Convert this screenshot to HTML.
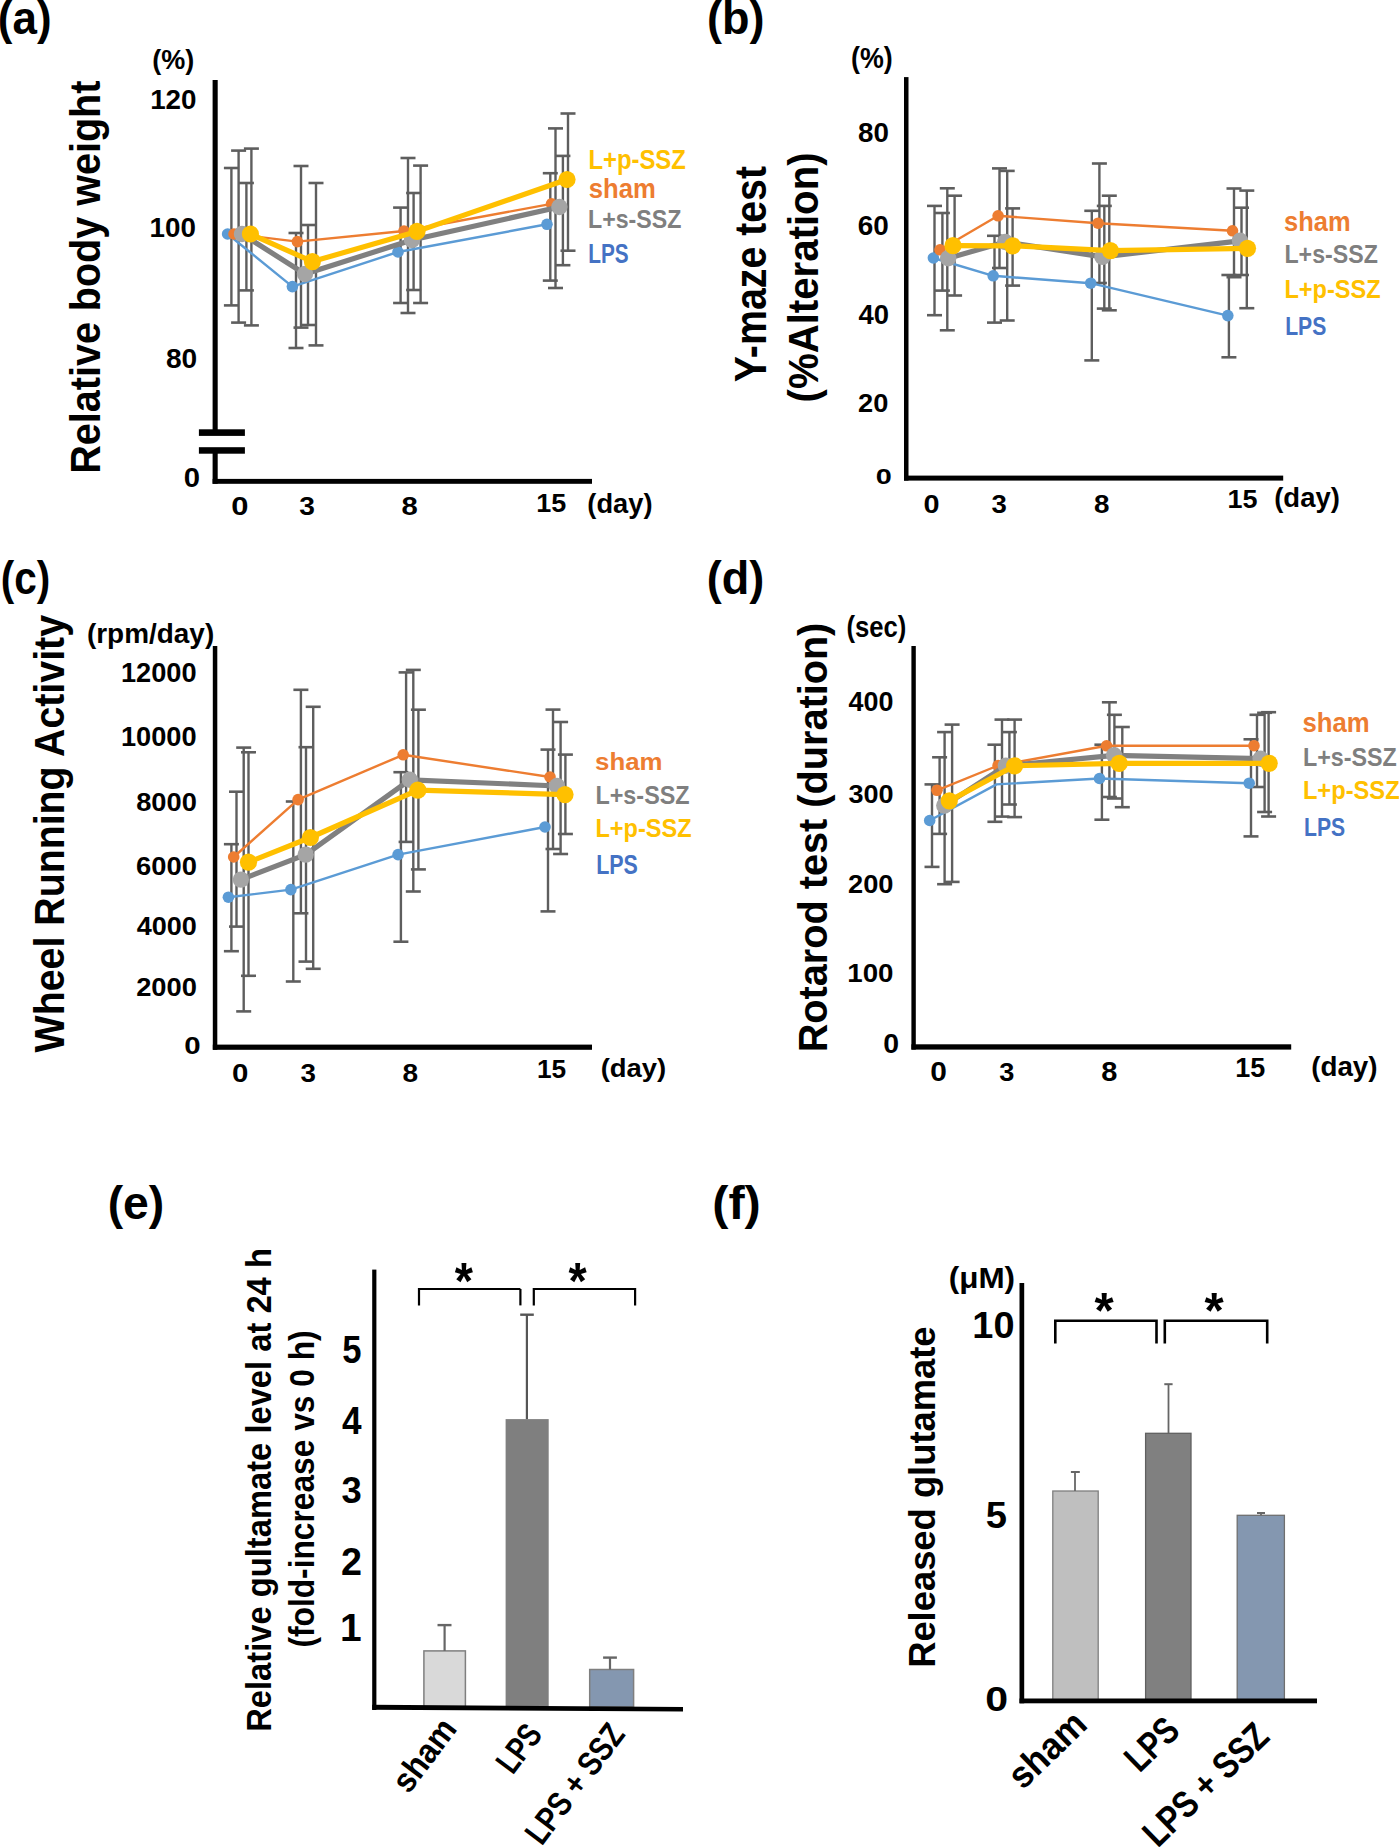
<!DOCTYPE html>
<html><head><meta charset="utf-8"><style>
html,body{margin:0;padding:0;background:#fff;}
svg{display:block;}
text{font-family:"Liberation Sans", sans-serif;font-weight:bold;}
</style></head><body>
<svg width="1399" height="1847" viewBox="0 0 1399 1847">
<rect width="1399" height="1847" fill="#fff"/>
<text transform="translate(-2.20,33.59) scale(0.9500,1)" font-size="46.33" fill="#000">(a)</text>
<text transform="translate(152.35,68.75) scale(0.9577,1)" font-size="28.20" fill="#000">(%)</text>
<text transform="translate(150.16,109.10) scale(1.0150,1)" font-size="27.38" fill="#000">120</text>
<text transform="translate(149.56,237.30) scale(1.0150,1)" font-size="27.38" fill="#000">100</text>
<text transform="translate(165.89,368.00) scale(1.0332,1)" font-size="27.24" fill="#000">80</text>
<text transform="translate(183.83,487.02) scale(1.0456,1)" font-size="27.99" fill="#000">0</text>
<text transform="translate(100.30,473.67) rotate(-90) scale(0.9459,1)" font-size="41.79" fill="#000">Relative body weight</text>
<text transform="translate(231.36,515.35) scale(1.2232,1)" font-size="25.30" fill="#000">0</text>
<text transform="translate(299.37,515.28) scale(1.1162,1)" font-size="25.21" fill="#000">3</text>
<text transform="translate(401.45,515.35) scale(1.1557,1)" font-size="25.30" fill="#000">8</text>
<text transform="translate(536.21,511.50) scale(1.0184,1)" font-size="26.47" fill="#000">15</text>
<text transform="translate(587.34,512.58) scale(0.9898,1)" font-size="27.56" fill="#000">(day)</text>
<text transform="translate(588.39,168.50) scale(0.8811,1)" font-size="27.10" fill="#FFC000">L+p-SSZ</text>
<text transform="translate(588.70,197.60) scale(0.9040,1)" font-size="28.41" fill="#ED7D31">sham</text>
<text transform="translate(588.03,228.00) scale(0.8987,1)" font-size="25.81" fill="#7F7F7F">L+s-SSZ</text>
<text transform="translate(588.20,262.80) scale(0.7713,1)" font-size="26.95" fill="#4472C4">LPS</text>
<line x1="231.4" y1="168" x2="231.4" y2="305.4" stroke="#5E5E5E" stroke-width="2.4" stroke-linecap="butt"/>
<line x1="223.9" y1="168" x2="238.9" y2="168" stroke="#5E5E5E" stroke-width="2.6" stroke-linecap="butt"/>
<line x1="223.9" y1="305.4" x2="238.9" y2="305.4" stroke="#5E5E5E" stroke-width="2.6" stroke-linecap="butt"/>
<line x1="238.6" y1="150.6" x2="238.6" y2="322.6" stroke="#5E5E5E" stroke-width="2.4" stroke-linecap="butt"/>
<line x1="231.1" y1="150.6" x2="246.1" y2="150.6" stroke="#5E5E5E" stroke-width="2.6" stroke-linecap="butt"/>
<line x1="231.1" y1="322.6" x2="246.1" y2="322.6" stroke="#5E5E5E" stroke-width="2.6" stroke-linecap="butt"/>
<line x1="246.4" y1="183" x2="246.4" y2="290.4" stroke="#5E5E5E" stroke-width="2.4" stroke-linecap="butt"/>
<line x1="238.9" y1="183" x2="253.9" y2="183" stroke="#5E5E5E" stroke-width="2.6" stroke-linecap="butt"/>
<line x1="238.9" y1="290.4" x2="253.9" y2="290.4" stroke="#5E5E5E" stroke-width="2.6" stroke-linecap="butt"/>
<line x1="251.4" y1="148.6" x2="251.4" y2="325.4" stroke="#5E5E5E" stroke-width="2.4" stroke-linecap="butt"/>
<line x1="243.9" y1="148.6" x2="258.9" y2="148.6" stroke="#5E5E5E" stroke-width="2.6" stroke-linecap="butt"/>
<line x1="243.9" y1="325.4" x2="258.9" y2="325.4" stroke="#5E5E5E" stroke-width="2.6" stroke-linecap="butt"/>
<line x1="296" y1="233" x2="296" y2="348" stroke="#5E5E5E" stroke-width="2.4" stroke-linecap="butt"/>
<line x1="288.5" y1="233" x2="303.5" y2="233" stroke="#5E5E5E" stroke-width="2.6" stroke-linecap="butt"/>
<line x1="288.5" y1="348" x2="303.5" y2="348" stroke="#5E5E5E" stroke-width="2.6" stroke-linecap="butt"/>
<line x1="301" y1="166" x2="301" y2="327.6" stroke="#5E5E5E" stroke-width="2.4" stroke-linecap="butt"/>
<line x1="293.5" y1="166" x2="308.5" y2="166" stroke="#5E5E5E" stroke-width="2.6" stroke-linecap="butt"/>
<line x1="293.5" y1="327.6" x2="308.5" y2="327.6" stroke="#5E5E5E" stroke-width="2.6" stroke-linecap="butt"/>
<line x1="308" y1="225" x2="308" y2="325" stroke="#5E5E5E" stroke-width="2.4" stroke-linecap="butt"/>
<line x1="300.5" y1="225" x2="315.5" y2="225" stroke="#5E5E5E" stroke-width="2.6" stroke-linecap="butt"/>
<line x1="300.5" y1="325" x2="315.5" y2="325" stroke="#5E5E5E" stroke-width="2.6" stroke-linecap="butt"/>
<line x1="316" y1="183" x2="316" y2="345.4" stroke="#5E5E5E" stroke-width="2.4" stroke-linecap="butt"/>
<line x1="308.5" y1="183" x2="323.5" y2="183" stroke="#5E5E5E" stroke-width="2.6" stroke-linecap="butt"/>
<line x1="308.5" y1="345.4" x2="323.5" y2="345.4" stroke="#5E5E5E" stroke-width="2.6" stroke-linecap="butt"/>
<line x1="400.6" y1="207.6" x2="400.6" y2="303" stroke="#5E5E5E" stroke-width="2.4" stroke-linecap="butt"/>
<line x1="393.1" y1="207.6" x2="408.1" y2="207.6" stroke="#5E5E5E" stroke-width="2.6" stroke-linecap="butt"/>
<line x1="393.1" y1="303" x2="408.1" y2="303" stroke="#5E5E5E" stroke-width="2.6" stroke-linecap="butt"/>
<line x1="408" y1="158" x2="408" y2="313" stroke="#5E5E5E" stroke-width="2.4" stroke-linecap="butt"/>
<line x1="400.5" y1="158" x2="415.5" y2="158" stroke="#5E5E5E" stroke-width="2.6" stroke-linecap="butt"/>
<line x1="400.5" y1="313" x2="415.5" y2="313" stroke="#5E5E5E" stroke-width="2.6" stroke-linecap="butt"/>
<line x1="413.6" y1="193" x2="413.6" y2="290" stroke="#5E5E5E" stroke-width="2.4" stroke-linecap="butt"/>
<line x1="406.1" y1="193" x2="421.1" y2="193" stroke="#5E5E5E" stroke-width="2.6" stroke-linecap="butt"/>
<line x1="406.1" y1="290" x2="421.1" y2="290" stroke="#5E5E5E" stroke-width="2.6" stroke-linecap="butt"/>
<line x1="420.6" y1="165.6" x2="420.6" y2="303" stroke="#5E5E5E" stroke-width="2.4" stroke-linecap="butt"/>
<line x1="413.1" y1="165.6" x2="428.1" y2="165.6" stroke="#5E5E5E" stroke-width="2.6" stroke-linecap="butt"/>
<line x1="413.1" y1="303" x2="428.1" y2="303" stroke="#5E5E5E" stroke-width="2.6" stroke-linecap="butt"/>
<line x1="550.3" y1="173.2" x2="550.3" y2="280.6" stroke="#5E5E5E" stroke-width="2.4" stroke-linecap="butt"/>
<line x1="542.8" y1="173.2" x2="557.8" y2="173.2" stroke="#5E5E5E" stroke-width="2.6" stroke-linecap="butt"/>
<line x1="542.8" y1="280.6" x2="557.8" y2="280.6" stroke="#5E5E5E" stroke-width="2.6" stroke-linecap="butt"/>
<line x1="555.5" y1="128.4" x2="555.5" y2="288" stroke="#5E5E5E" stroke-width="2.4" stroke-linecap="butt"/>
<line x1="548.0" y1="128.4" x2="563.0" y2="128.4" stroke="#5E5E5E" stroke-width="2.6" stroke-linecap="butt"/>
<line x1="548.0" y1="288" x2="563.0" y2="288" stroke="#5E5E5E" stroke-width="2.6" stroke-linecap="butt"/>
<line x1="562.9" y1="155.9" x2="562.9" y2="265.2" stroke="#5E5E5E" stroke-width="2.4" stroke-linecap="butt"/>
<line x1="555.4" y1="155.9" x2="570.4" y2="155.9" stroke="#5E5E5E" stroke-width="2.6" stroke-linecap="butt"/>
<line x1="555.4" y1="265.2" x2="570.4" y2="265.2" stroke="#5E5E5E" stroke-width="2.6" stroke-linecap="butt"/>
<line x1="568" y1="113.5" x2="568" y2="250.7" stroke="#5E5E5E" stroke-width="2.4" stroke-linecap="butt"/>
<line x1="560.5" y1="113.5" x2="575.5" y2="113.5" stroke="#5E5E5E" stroke-width="2.6" stroke-linecap="butt"/>
<line x1="560.5" y1="250.7" x2="575.5" y2="250.7" stroke="#5E5E5E" stroke-width="2.6" stroke-linecap="butt"/>
<polyline points="227.6,234 292.4,286.6 398,252 547,224.3" fill="none" stroke="#5B9BD5" stroke-width="2.4" stroke-linejoin="round"/>
<circle cx="227.6" cy="234" r="5.8" fill="#5B9BD5"/>
<circle cx="292.4" cy="286.6" r="5.8" fill="#5B9BD5"/>
<circle cx="398" cy="252" r="5.8" fill="#5B9BD5"/>
<circle cx="547" cy="224.3" r="5.8" fill="#5B9BD5"/>
<polyline points="234,234 297.4,241.6 404,231 551.5,203.9" fill="none" stroke="#ED7D31" stroke-width="2.4" stroke-linejoin="round"/>
<circle cx="234" cy="234" r="5.8" fill="#ED7D31"/>
<circle cx="297.4" cy="241.6" r="5.8" fill="#ED7D31"/>
<circle cx="404" cy="231" r="5.8" fill="#ED7D31"/>
<circle cx="551.5" cy="203.9" r="5.8" fill="#ED7D31"/>
<polyline points="242,234 305,274 412,240 559.4,207" fill="none" stroke="#808080" stroke-width="5.2" stroke-linejoin="round"/>
<circle cx="242" cy="234" r="8.2" fill="#A5A5A5"/>
<circle cx="305" cy="274" r="8.2" fill="#A5A5A5"/>
<circle cx="412" cy="240" r="8.2" fill="#A5A5A5"/>
<circle cx="559.4" cy="207" r="8.2" fill="#A5A5A5"/>
<polyline points="250.4,234 312.4,261.6 417,231.4 567,179.5" fill="none" stroke="#FFC000" stroke-width="5.2" stroke-linejoin="round"/>
<circle cx="250.4" cy="234" r="8.6" fill="#FFC000"/>
<circle cx="312.4" cy="261.6" r="8.6" fill="#FFC000"/>
<circle cx="417" cy="231.4" r="8.6" fill="#FFC000"/>
<circle cx="567" cy="179.5" r="8.6" fill="#FFC000"/>
<rect x="212.60" y="80.00" width="5.10" height="352.00" fill="#000"/>
<rect x="212.60" y="450.00" width="5.10" height="33.80" fill="#000"/>
<rect x="212.60" y="478.90" width="379.40" height="4.90" fill="#000"/>
<rect x="198.90" y="429.30" width="46.00" height="6.60" fill="#000"/>
<rect x="198.90" y="447.20" width="46.00" height="6.50" fill="#000"/>
<text transform="translate(707.05,33.98) scale(0.9605,1)" font-size="46.86" fill="#000">(b)</text>
<text transform="translate(851.06,68.31) scale(0.9292,1)" font-size="28.85" fill="#000">(%)</text>
<text transform="translate(858.00,142.20) scale(0.9929,1)" font-size="27.96" fill="#000">80</text>
<text transform="translate(857.85,235.10) scale(0.9977,1)" font-size="27.96" fill="#000">60</text>
<text transform="translate(858.59,324.00) scale(1.0198,1)" font-size="26.95" fill="#000">40</text>
<text transform="translate(858.05,411.50) scale(1.0558,1)" font-size="25.81" fill="#000">20</text>
<text transform="translate(875.85,483.78) scale(1.3165,1)" font-size="21.91" fill="#000">0</text>
<text transform="translate(766.30,382.19) rotate(-90) scale(0.9008,1)" font-size="43.64" fill="#000">Y-maze test</text>
<text transform="translate(817.53,402.41) rotate(-90) scale(0.9513,1)" font-size="42.25" fill="#000">(%Alteration)</text>
<text transform="translate(923.55,512.95) scale(1.1400,1)" font-size="25.30" fill="#000">0</text>
<text transform="translate(991.38,512.88) scale(1.0923,1)" font-size="25.21" fill="#000">3</text>
<text transform="translate(1094.00,512.95) scale(1.0995,1)" font-size="25.30" fill="#000">8</text>
<text transform="translate(1227.61,508.00) scale(1.0413,1)" font-size="25.89" fill="#000">15</text>
<text transform="translate(1274.23,507.46) scale(0.9923,1)" font-size="27.67" fill="#000">(day)</text>
<text transform="translate(1284.01,230.80) scale(0.9285,1)" font-size="27.45" fill="#ED7D31">sham</text>
<text transform="translate(1284.43,263.30) scale(0.8888,1)" font-size="26.09" fill="#7F7F7F">L+s-SSZ</text>
<text transform="translate(1284.41,297.50) scale(0.9034,1)" font-size="26.09" fill="#FFC000">L+p-SSZ</text>
<text transform="translate(1285.17,334.90) scale(0.8113,1)" font-size="26.09" fill="#4472C4">LPS</text>
<line x1="934.5" y1="205.9" x2="934.5" y2="315.2" stroke="#5E5E5E" stroke-width="2.4" stroke-linecap="butt"/>
<line x1="927.0" y1="205.9" x2="942.0" y2="205.9" stroke="#5E5E5E" stroke-width="2.6" stroke-linecap="butt"/>
<line x1="927.0" y1="315.2" x2="942.0" y2="315.2" stroke="#5E5E5E" stroke-width="2.6" stroke-linecap="butt"/>
<line x1="942.4" y1="213" x2="942.4" y2="290.6" stroke="#5E5E5E" stroke-width="2.4" stroke-linecap="butt"/>
<line x1="934.9" y1="213" x2="949.9" y2="213" stroke="#5E5E5E" stroke-width="2.6" stroke-linecap="butt"/>
<line x1="934.9" y1="290.6" x2="949.9" y2="290.6" stroke="#5E5E5E" stroke-width="2.6" stroke-linecap="butt"/>
<line x1="947.3" y1="188.3" x2="947.3" y2="330.3" stroke="#5E5E5E" stroke-width="2.4" stroke-linecap="butt"/>
<line x1="939.8" y1="188.3" x2="954.8" y2="188.3" stroke="#5E5E5E" stroke-width="2.6" stroke-linecap="butt"/>
<line x1="939.8" y1="330.3" x2="954.8" y2="330.3" stroke="#5E5E5E" stroke-width="2.6" stroke-linecap="butt"/>
<line x1="954.6" y1="195.7" x2="954.6" y2="295.5" stroke="#5E5E5E" stroke-width="2.4" stroke-linecap="butt"/>
<line x1="947.1" y1="195.7" x2="962.1" y2="195.7" stroke="#5E5E5E" stroke-width="2.6" stroke-linecap="butt"/>
<line x1="947.1" y1="295.5" x2="962.1" y2="295.5" stroke="#5E5E5E" stroke-width="2.6" stroke-linecap="butt"/>
<line x1="994.5" y1="235.8" x2="994.5" y2="322.6" stroke="#5E5E5E" stroke-width="2.4" stroke-linecap="butt"/>
<line x1="987.0" y1="235.8" x2="1002.0" y2="235.8" stroke="#5E5E5E" stroke-width="2.6" stroke-linecap="butt"/>
<line x1="987.0" y1="322.6" x2="1002.0" y2="322.6" stroke="#5E5E5E" stroke-width="2.6" stroke-linecap="butt"/>
<line x1="999.5" y1="168.4" x2="999.5" y2="268" stroke="#5E5E5E" stroke-width="2.4" stroke-linecap="butt"/>
<line x1="992.0" y1="168.4" x2="1007.0" y2="168.4" stroke="#5E5E5E" stroke-width="2.6" stroke-linecap="butt"/>
<line x1="992.0" y1="268" x2="1007.0" y2="268" stroke="#5E5E5E" stroke-width="2.6" stroke-linecap="butt"/>
<line x1="1007.2" y1="170.9" x2="1007.2" y2="320.5" stroke="#5E5E5E" stroke-width="2.4" stroke-linecap="butt"/>
<line x1="999.7" y1="170.9" x2="1014.7" y2="170.9" stroke="#5E5E5E" stroke-width="2.6" stroke-linecap="butt"/>
<line x1="999.7" y1="320.5" x2="1014.7" y2="320.5" stroke="#5E5E5E" stroke-width="2.6" stroke-linecap="butt"/>
<line x1="1012.6" y1="208.4" x2="1012.6" y2="285.6" stroke="#5E5E5E" stroke-width="2.4" stroke-linecap="butt"/>
<line x1="1005.1" y1="208.4" x2="1020.1" y2="208.4" stroke="#5E5E5E" stroke-width="2.6" stroke-linecap="butt"/>
<line x1="1005.1" y1="285.6" x2="1020.1" y2="285.6" stroke="#5E5E5E" stroke-width="2.6" stroke-linecap="butt"/>
<line x1="1091.8" y1="210.8" x2="1091.8" y2="360.4" stroke="#5E5E5E" stroke-width="2.4" stroke-linecap="butt"/>
<line x1="1084.3" y1="210.8" x2="1099.3" y2="210.8" stroke="#5E5E5E" stroke-width="2.6" stroke-linecap="butt"/>
<line x1="1084.3" y1="360.4" x2="1099.3" y2="360.4" stroke="#5E5E5E" stroke-width="2.6" stroke-linecap="butt"/>
<line x1="1099.4" y1="163.5" x2="1099.4" y2="283" stroke="#5E5E5E" stroke-width="2.4" stroke-linecap="butt"/>
<line x1="1091.9" y1="163.5" x2="1106.9" y2="163.5" stroke="#5E5E5E" stroke-width="2.6" stroke-linecap="butt"/>
<line x1="1091.9" y1="283" x2="1106.9" y2="283" stroke="#5E5E5E" stroke-width="2.6" stroke-linecap="butt"/>
<line x1="1104.3" y1="205.9" x2="1104.3" y2="308.6" stroke="#5E5E5E" stroke-width="2.4" stroke-linecap="butt"/>
<line x1="1096.8" y1="205.9" x2="1111.8" y2="205.9" stroke="#5E5E5E" stroke-width="2.6" stroke-linecap="butt"/>
<line x1="1096.8" y1="308.6" x2="1111.8" y2="308.6" stroke="#5E5E5E" stroke-width="2.6" stroke-linecap="butt"/>
<line x1="1109.3" y1="195.7" x2="1109.3" y2="310.3" stroke="#5E5E5E" stroke-width="2.4" stroke-linecap="butt"/>
<line x1="1101.8" y1="195.7" x2="1116.8" y2="195.7" stroke="#5E5E5E" stroke-width="2.6" stroke-linecap="butt"/>
<line x1="1101.8" y1="310.3" x2="1116.8" y2="310.3" stroke="#5E5E5E" stroke-width="2.6" stroke-linecap="butt"/>
<line x1="1228.9" y1="275" x2="1228.9" y2="357.3" stroke="#5E5E5E" stroke-width="2.4" stroke-linecap="butt"/>
<line x1="1221.4" y1="275" x2="1236.4" y2="275" stroke="#5E5E5E" stroke-width="2.6" stroke-linecap="butt"/>
<line x1="1221.4" y1="357.3" x2="1236.4" y2="357.3" stroke="#5E5E5E" stroke-width="2.6" stroke-linecap="butt"/>
<line x1="1234" y1="188.5" x2="1234" y2="277.2" stroke="#5E5E5E" stroke-width="2.4" stroke-linecap="butt"/>
<line x1="1226.5" y1="188.5" x2="1241.5" y2="188.5" stroke="#5E5E5E" stroke-width="2.6" stroke-linecap="butt"/>
<line x1="1226.5" y1="277.2" x2="1241.5" y2="277.2" stroke="#5E5E5E" stroke-width="2.6" stroke-linecap="butt"/>
<line x1="1241.5" y1="207.7" x2="1241.5" y2="275" stroke="#5E5E5E" stroke-width="2.4" stroke-linecap="butt"/>
<line x1="1234.0" y1="207.7" x2="1249.0" y2="207.7" stroke="#5E5E5E" stroke-width="2.6" stroke-linecap="butt"/>
<line x1="1234.0" y1="275" x2="1249.0" y2="275" stroke="#5E5E5E" stroke-width="2.6" stroke-linecap="butt"/>
<line x1="1246.8" y1="190.6" x2="1246.8" y2="308.2" stroke="#5E5E5E" stroke-width="2.4" stroke-linecap="butt"/>
<line x1="1239.3" y1="190.6" x2="1254.3" y2="190.6" stroke="#5E5E5E" stroke-width="2.6" stroke-linecap="butt"/>
<line x1="1239.3" y1="308.2" x2="1254.3" y2="308.2" stroke="#5E5E5E" stroke-width="2.6" stroke-linecap="butt"/>
<polyline points="933.4,258 993.2,275.8 1090.7,283.2 1227.8,315.6" fill="none" stroke="#5B9BD5" stroke-width="2.4" stroke-linejoin="round"/>
<circle cx="933.4" cy="258" r="5.8" fill="#5B9BD5"/>
<circle cx="993.2" cy="275.8" r="5.8" fill="#5B9BD5"/>
<circle cx="1090.7" cy="283.2" r="5.8" fill="#5B9BD5"/>
<circle cx="1227.8" cy="315.6" r="5.8" fill="#5B9BD5"/>
<polyline points="940,249.8 998.1,215.8 1098.1,223.2 1232.5,230.8" fill="none" stroke="#ED7D31" stroke-width="2.4" stroke-linejoin="round"/>
<circle cx="940" cy="249.8" r="5.8" fill="#ED7D31"/>
<circle cx="998.1" cy="215.8" r="5.8" fill="#ED7D31"/>
<circle cx="1098.1" cy="223.2" r="5.8" fill="#ED7D31"/>
<circle cx="1232.5" cy="230.8" r="5.8" fill="#ED7D31"/>
<polyline points="948.2,258.2 1005.2,242 1102.5,256.9 1240,240.8" fill="none" stroke="#808080" stroke-width="5.2" stroke-linejoin="round"/>
<circle cx="948.2" cy="258.2" r="8.2" fill="#A5A5A5"/>
<circle cx="1005.2" cy="242" r="8.2" fill="#A5A5A5"/>
<circle cx="1102.5" cy="256.9" r="8.2" fill="#A5A5A5"/>
<circle cx="1240" cy="240.8" r="8.2" fill="#A5A5A5"/>
<polyline points="953,245.7 1012.6,245.8 1110.4,250.6 1247.5,248.3" fill="none" stroke="#FFC000" stroke-width="5.2" stroke-linejoin="round"/>
<circle cx="953" cy="245.7" r="8.6" fill="#FFC000"/>
<circle cx="1012.6" cy="245.8" r="8.6" fill="#FFC000"/>
<circle cx="1110.4" cy="250.6" r="8.6" fill="#FFC000"/>
<circle cx="1247.5" cy="248.3" r="8.6" fill="#FFC000"/>
<rect x="904.00" y="77.10" width="4.50" height="403.50" fill="#000"/>
<rect x="904.00" y="475.60" width="379.20" height="5.00" fill="#000"/>
<text transform="translate(0.77,594.18) scale(0.8650,1)" font-size="46.86" fill="#000">(c)</text>
<text transform="translate(86.90,642.71) scale(1.0023,1)" font-size="27.88" fill="#000">(rpm/day)</text>
<text transform="translate(121.00,682.00) scale(0.9725,1)" font-size="27.96" fill="#000">12000</text>
<text transform="translate(121.00,746.10) scale(0.9725,1)" font-size="27.96" fill="#000">10000</text>
<text transform="translate(136.21,810.70) scale(1.0221,1)" font-size="26.67" fill="#000">8000</text>
<text transform="translate(136.08,874.80) scale(1.0245,1)" font-size="26.67" fill="#000">6000</text>
<text transform="translate(136.69,935.20) scale(1.0138,1)" font-size="26.67" fill="#000">4000</text>
<text transform="translate(136.14,995.60) scale(1.0233,1)" font-size="26.67" fill="#000">2000</text>
<text transform="translate(184.22,1053.96) scale(1.2412,1)" font-size="23.75" fill="#000">0</text>
<text transform="translate(64.40,1052.40) rotate(-90) scale(0.9377,1)" font-size="41.93" fill="#000">Wheel Running Activity</text>
<text transform="translate(232.12,1082.24) scale(1.1457,1)" font-size="25.72" fill="#000">0</text>
<text transform="translate(300.58,1082.18) scale(1.0821,1)" font-size="25.63" fill="#000">3</text>
<text transform="translate(402.49,1082.24) scale(1.0893,1)" font-size="25.72" fill="#000">8</text>
<text transform="translate(536.96,1078.00) scale(1.0148,1)" font-size="25.89" fill="#000">15</text>
<text transform="translate(600.63,1076.60) scale(1.0365,1)" font-size="26.49" fill="#000">(day)</text>
<text transform="translate(595.10,770.00) scale(1.0410,1)" font-size="24.83" fill="#ED7D31">sham</text>
<text transform="translate(595.42,804.00) scale(0.9065,1)" font-size="25.81" fill="#7F7F7F">L+s-SSZ</text>
<text transform="translate(595.41,837.00) scale(0.9135,1)" font-size="25.81" fill="#FFC000">L+p-SSZ</text>
<text transform="translate(596.15,874.00) scale(0.7872,1)" font-size="27.24" fill="#4472C4">LPS</text>
<line x1="231.4" y1="844.2" x2="231.4" y2="951.2" stroke="#5E5E5E" stroke-width="2.4" stroke-linecap="butt"/>
<line x1="223.9" y1="844.2" x2="238.9" y2="844.2" stroke="#5E5E5E" stroke-width="2.6" stroke-linecap="butt"/>
<line x1="223.9" y1="951.2" x2="238.9" y2="951.2" stroke="#5E5E5E" stroke-width="2.6" stroke-linecap="butt"/>
<line x1="236.5" y1="791.7" x2="236.5" y2="926.6" stroke="#5E5E5E" stroke-width="2.4" stroke-linecap="butt"/>
<line x1="229.0" y1="791.7" x2="244.0" y2="791.7" stroke="#5E5E5E" stroke-width="2.6" stroke-linecap="butt"/>
<line x1="229.0" y1="926.6" x2="244.0" y2="926.6" stroke="#5E5E5E" stroke-width="2.6" stroke-linecap="butt"/>
<line x1="243.7" y1="747.6" x2="243.7" y2="1011.4" stroke="#5E5E5E" stroke-width="2.4" stroke-linecap="butt"/>
<line x1="236.2" y1="747.6" x2="251.2" y2="747.6" stroke="#5E5E5E" stroke-width="2.6" stroke-linecap="butt"/>
<line x1="236.2" y1="1011.4" x2="251.2" y2="1011.4" stroke="#5E5E5E" stroke-width="2.6" stroke-linecap="butt"/>
<line x1="248.5" y1="752.3" x2="248.5" y2="975.8" stroke="#5E5E5E" stroke-width="2.4" stroke-linecap="butt"/>
<line x1="241.0" y1="752.3" x2="256.0" y2="752.3" stroke="#5E5E5E" stroke-width="2.6" stroke-linecap="butt"/>
<line x1="241.0" y1="975.8" x2="256.0" y2="975.8" stroke="#5E5E5E" stroke-width="2.6" stroke-linecap="butt"/>
<line x1="293.3" y1="801.5" x2="293.3" y2="981.5" stroke="#5E5E5E" stroke-width="2.4" stroke-linecap="butt"/>
<line x1="285.8" y1="801.5" x2="300.8" y2="801.5" stroke="#5E5E5E" stroke-width="2.6" stroke-linecap="butt"/>
<line x1="285.8" y1="981.5" x2="300.8" y2="981.5" stroke="#5E5E5E" stroke-width="2.6" stroke-linecap="butt"/>
<line x1="300.9" y1="689.8" x2="300.9" y2="913.3" stroke="#5E5E5E" stroke-width="2.4" stroke-linecap="butt"/>
<line x1="293.4" y1="689.8" x2="308.4" y2="689.8" stroke="#5E5E5E" stroke-width="2.6" stroke-linecap="butt"/>
<line x1="293.4" y1="913.3" x2="308.4" y2="913.3" stroke="#5E5E5E" stroke-width="2.6" stroke-linecap="butt"/>
<line x1="306" y1="747.2" x2="306" y2="961.6" stroke="#5E5E5E" stroke-width="2.4" stroke-linecap="butt"/>
<line x1="298.5" y1="747.2" x2="313.5" y2="747.2" stroke="#5E5E5E" stroke-width="2.6" stroke-linecap="butt"/>
<line x1="298.5" y1="961.6" x2="313.5" y2="961.6" stroke="#5E5E5E" stroke-width="2.6" stroke-linecap="butt"/>
<line x1="313.2" y1="706.8" x2="313.2" y2="968.8" stroke="#5E5E5E" stroke-width="2.4" stroke-linecap="butt"/>
<line x1="305.7" y1="706.8" x2="320.7" y2="706.8" stroke="#5E5E5E" stroke-width="2.6" stroke-linecap="butt"/>
<line x1="305.7" y1="968.8" x2="320.7" y2="968.8" stroke="#5E5E5E" stroke-width="2.6" stroke-linecap="butt"/>
<line x1="400.9" y1="772.2" x2="400.9" y2="941.7" stroke="#5E5E5E" stroke-width="2.4" stroke-linecap="butt"/>
<line x1="393.4" y1="772.2" x2="408.4" y2="772.2" stroke="#5E5E5E" stroke-width="2.6" stroke-linecap="butt"/>
<line x1="393.4" y1="941.7" x2="408.4" y2="941.7" stroke="#5E5E5E" stroke-width="2.6" stroke-linecap="butt"/>
<line x1="406.1" y1="672.4" x2="406.1" y2="841.9" stroke="#5E5E5E" stroke-width="2.4" stroke-linecap="butt"/>
<line x1="398.6" y1="672.4" x2="413.6" y2="672.4" stroke="#5E5E5E" stroke-width="2.6" stroke-linecap="butt"/>
<line x1="398.6" y1="841.9" x2="413.6" y2="841.9" stroke="#5E5E5E" stroke-width="2.6" stroke-linecap="butt"/>
<line x1="413.3" y1="669.9" x2="413.3" y2="891.5" stroke="#5E5E5E" stroke-width="2.4" stroke-linecap="butt"/>
<line x1="405.8" y1="669.9" x2="420.8" y2="669.9" stroke="#5E5E5E" stroke-width="2.6" stroke-linecap="butt"/>
<line x1="405.8" y1="891.5" x2="420.8" y2="891.5" stroke="#5E5E5E" stroke-width="2.6" stroke-linecap="butt"/>
<line x1="418.4" y1="709.7" x2="418.4" y2="869.4" stroke="#5E5E5E" stroke-width="2.4" stroke-linecap="butt"/>
<line x1="410.9" y1="709.7" x2="425.9" y2="709.7" stroke="#5E5E5E" stroke-width="2.6" stroke-linecap="butt"/>
<line x1="410.9" y1="869.4" x2="425.9" y2="869.4" stroke="#5E5E5E" stroke-width="2.6" stroke-linecap="butt"/>
<line x1="548" y1="749.6" x2="548" y2="911.4" stroke="#5E5E5E" stroke-width="2.4" stroke-linecap="butt"/>
<line x1="540.5" y1="749.6" x2="555.5" y2="749.6" stroke="#5E5E5E" stroke-width="2.6" stroke-linecap="butt"/>
<line x1="540.5" y1="911.4" x2="555.5" y2="911.4" stroke="#5E5E5E" stroke-width="2.6" stroke-linecap="butt"/>
<line x1="553" y1="709.6" x2="553" y2="849" stroke="#5E5E5E" stroke-width="2.4" stroke-linecap="butt"/>
<line x1="545.5" y1="709.6" x2="560.5" y2="709.6" stroke="#5E5E5E" stroke-width="2.6" stroke-linecap="butt"/>
<line x1="545.5" y1="849" x2="560.5" y2="849" stroke="#5E5E5E" stroke-width="2.6" stroke-linecap="butt"/>
<line x1="560.6" y1="722" x2="560.6" y2="854" stroke="#5E5E5E" stroke-width="2.4" stroke-linecap="butt"/>
<line x1="553.1" y1="722" x2="568.1" y2="722" stroke="#5E5E5E" stroke-width="2.6" stroke-linecap="butt"/>
<line x1="553.1" y1="854" x2="568.1" y2="854" stroke="#5E5E5E" stroke-width="2.6" stroke-linecap="butt"/>
<line x1="565.4" y1="754.6" x2="565.4" y2="834" stroke="#5E5E5E" stroke-width="2.4" stroke-linecap="butt"/>
<line x1="557.9" y1="754.6" x2="572.9" y2="754.6" stroke="#5E5E5E" stroke-width="2.6" stroke-linecap="butt"/>
<line x1="557.9" y1="834" x2="572.9" y2="834" stroke="#5E5E5E" stroke-width="2.6" stroke-linecap="butt"/>
<polyline points="228.4,897.2 290.9,889.6 398.1,854.6 545,827" fill="none" stroke="#5B9BD5" stroke-width="2.4" stroke-linejoin="round"/>
<circle cx="228.4" cy="897.2" r="5.8" fill="#5B9BD5"/>
<circle cx="290.9" cy="889.6" r="5.8" fill="#5B9BD5"/>
<circle cx="398.1" cy="854.6" r="5.8" fill="#5B9BD5"/>
<circle cx="545" cy="827" r="5.8" fill="#5B9BD5"/>
<polyline points="233.7,857 298.1,799.6 403.2,754.8 550,777" fill="none" stroke="#ED7D31" stroke-width="2.4" stroke-linejoin="round"/>
<circle cx="233.7" cy="857" r="5.8" fill="#ED7D31"/>
<circle cx="298.1" cy="799.6" r="5.8" fill="#ED7D31"/>
<circle cx="403.2" cy="754.8" r="5.8" fill="#ED7D31"/>
<circle cx="550" cy="777" r="5.8" fill="#ED7D31"/>
<polyline points="240.9,879.6 305.7,854.6 409.8,779.8 557,786" fill="none" stroke="#808080" stroke-width="5.2" stroke-linejoin="round"/>
<circle cx="240.9" cy="879.6" r="8.2" fill="#A5A5A5"/>
<circle cx="305.7" cy="854.6" r="8.2" fill="#A5A5A5"/>
<circle cx="409.8" cy="779.8" r="8.2" fill="#A5A5A5"/>
<circle cx="557" cy="786" r="8.2" fill="#A5A5A5"/>
<polyline points="248.5,862.2 310.4,837.5 417.8,790.2 565,794.6" fill="none" stroke="#FFC000" stroke-width="5.2" stroke-linejoin="round"/>
<circle cx="248.5" cy="862.2" r="8.6" fill="#FFC000"/>
<circle cx="310.4" cy="837.5" r="8.6" fill="#FFC000"/>
<circle cx="417.8" cy="790.2" r="8.6" fill="#FFC000"/>
<circle cx="565" cy="794.6" r="8.6" fill="#FFC000"/>
<rect x="212.80" y="646.00" width="4.50" height="403.80" fill="#000"/>
<rect x="212.80" y="1044.60" width="379.20" height="5.20" fill="#000"/>
<text transform="translate(706.65,594.28) scale(0.9623,1)" font-size="46.86" fill="#000">(d)</text>
<text transform="translate(846.42,637.29) scale(0.8870,1)" font-size="28.95" fill="#000">(sec)</text>
<text transform="translate(848.60,711.00) scale(0.9881,1)" font-size="27.24" fill="#000">400</text>
<text transform="translate(848.39,803.10) scale(1.0716,1)" font-size="25.23" fill="#000">300</text>
<text transform="translate(848.05,892.50) scale(1.0862,1)" font-size="25.09" fill="#000">200</text>
<text transform="translate(847.27,981.90) scale(1.0990,1)" font-size="25.23" fill="#000">100</text>
<text transform="translate(883.16,1053.43) scale(1.0583,1)" font-size="26.86" fill="#000">0</text>
<text transform="translate(827.40,1052.28) rotate(-90) scale(0.9654,1)" font-size="41.10" fill="#000">Rotarod test (duration)</text>
<text transform="translate(930.20,1081.43) scale(1.1191,1)" font-size="26.71" fill="#000">0</text>
<text transform="translate(999.29,1081.37) scale(1.0194,1)" font-size="26.62" fill="#000">3</text>
<text transform="translate(1101.26,1081.43) scale(1.0869,1)" font-size="26.71" fill="#000">8</text>
<text transform="translate(1235.31,1077.10) scale(0.9965,1)" font-size="27.05" fill="#000">15</text>
<text transform="translate(1311.21,1076.14) scale(1.0354,1)" font-size="26.81" fill="#000">(day)</text>
<text transform="translate(1302.50,732.00) scale(0.9098,1)" font-size="28.28" fill="#ED7D31">sham</text>
<text transform="translate(1302.93,765.60) scale(0.9086,1)" font-size="25.66" fill="#7F7F7F">L+s-SSZ</text>
<text transform="translate(1302.90,798.60) scale(0.9183,1)" font-size="25.81" fill="#FFC000">L+p-SSZ</text>
<text transform="translate(1304.07,835.50) scale(0.8486,1)" font-size="24.95" fill="#4472C4">LPS</text>
<line x1="932" y1="784.4" x2="932" y2="866.9" stroke="#5E5E5E" stroke-width="2.4" stroke-linecap="butt"/>
<line x1="924.5" y1="784.4" x2="939.5" y2="784.4" stroke="#5E5E5E" stroke-width="2.6" stroke-linecap="butt"/>
<line x1="924.5" y1="866.9" x2="939.5" y2="866.9" stroke="#5E5E5E" stroke-width="2.6" stroke-linecap="butt"/>
<line x1="939.6" y1="757.3" x2="939.6" y2="833.9" stroke="#5E5E5E" stroke-width="2.4" stroke-linecap="butt"/>
<line x1="932.1" y1="757.3" x2="947.1" y2="757.3" stroke="#5E5E5E" stroke-width="2.6" stroke-linecap="butt"/>
<line x1="932.1" y1="833.9" x2="947.1" y2="833.9" stroke="#5E5E5E" stroke-width="2.6" stroke-linecap="butt"/>
<line x1="944.6" y1="732.1" x2="944.6" y2="884.2" stroke="#5E5E5E" stroke-width="2.4" stroke-linecap="butt"/>
<line x1="937.1" y1="732.1" x2="952.1" y2="732.1" stroke="#5E5E5E" stroke-width="2.6" stroke-linecap="butt"/>
<line x1="937.1" y1="884.2" x2="952.1" y2="884.2" stroke="#5E5E5E" stroke-width="2.6" stroke-linecap="butt"/>
<line x1="952.1" y1="724.6" x2="952.1" y2="881.9" stroke="#5E5E5E" stroke-width="2.4" stroke-linecap="butt"/>
<line x1="944.6" y1="724.6" x2="959.6" y2="724.6" stroke="#5E5E5E" stroke-width="2.6" stroke-linecap="butt"/>
<line x1="944.6" y1="881.9" x2="959.6" y2="881.9" stroke="#5E5E5E" stroke-width="2.6" stroke-linecap="butt"/>
<line x1="994.9" y1="744.7" x2="994.9" y2="821.8" stroke="#5E5E5E" stroke-width="2.4" stroke-linecap="butt"/>
<line x1="987.4" y1="744.7" x2="1002.4" y2="744.7" stroke="#5E5E5E" stroke-width="2.6" stroke-linecap="butt"/>
<line x1="987.4" y1="821.8" x2="1002.4" y2="821.8" stroke="#5E5E5E" stroke-width="2.6" stroke-linecap="butt"/>
<line x1="1002" y1="719.6" x2="1002" y2="816.6" stroke="#5E5E5E" stroke-width="2.4" stroke-linecap="butt"/>
<line x1="994.5" y1="719.6" x2="1009.5" y2="719.6" stroke="#5E5E5E" stroke-width="2.6" stroke-linecap="butt"/>
<line x1="994.5" y1="816.6" x2="1009.5" y2="816.6" stroke="#5E5E5E" stroke-width="2.6" stroke-linecap="butt"/>
<line x1="1009.4" y1="732.1" x2="1009.4" y2="804.5" stroke="#5E5E5E" stroke-width="2.4" stroke-linecap="butt"/>
<line x1="1001.9" y1="732.1" x2="1016.9" y2="732.1" stroke="#5E5E5E" stroke-width="2.6" stroke-linecap="butt"/>
<line x1="1001.9" y1="804.5" x2="1016.9" y2="804.5" stroke="#5E5E5E" stroke-width="2.6" stroke-linecap="butt"/>
<line x1="1014.6" y1="719.6" x2="1014.6" y2="817.1" stroke="#5E5E5E" stroke-width="2.4" stroke-linecap="butt"/>
<line x1="1007.1" y1="719.6" x2="1022.1" y2="719.6" stroke="#5E5E5E" stroke-width="2.6" stroke-linecap="butt"/>
<line x1="1007.1" y1="817.1" x2="1022.1" y2="817.1" stroke="#5E5E5E" stroke-width="2.6" stroke-linecap="butt"/>
<line x1="1101.9" y1="744.7" x2="1101.9" y2="819.7" stroke="#5E5E5E" stroke-width="2.4" stroke-linecap="butt"/>
<line x1="1094.4" y1="744.7" x2="1109.4" y2="744.7" stroke="#5E5E5E" stroke-width="2.6" stroke-linecap="butt"/>
<line x1="1094.4" y1="819.7" x2="1109.4" y2="819.7" stroke="#5E5E5E" stroke-width="2.6" stroke-linecap="butt"/>
<line x1="1109.4" y1="702.3" x2="1109.4" y2="797" stroke="#5E5E5E" stroke-width="2.4" stroke-linecap="butt"/>
<line x1="1101.9" y1="702.3" x2="1116.9" y2="702.3" stroke="#5E5E5E" stroke-width="2.6" stroke-linecap="butt"/>
<line x1="1101.9" y1="797" x2="1116.9" y2="797" stroke="#5E5E5E" stroke-width="2.6" stroke-linecap="butt"/>
<line x1="1114.4" y1="714.8" x2="1114.4" y2="798.5" stroke="#5E5E5E" stroke-width="2.4" stroke-linecap="butt"/>
<line x1="1106.9" y1="714.8" x2="1121.9" y2="714.8" stroke="#5E5E5E" stroke-width="2.6" stroke-linecap="butt"/>
<line x1="1106.9" y1="798.5" x2="1121.9" y2="798.5" stroke="#5E5E5E" stroke-width="2.6" stroke-linecap="butt"/>
<line x1="1122.3" y1="727" x2="1122.3" y2="807.2" stroke="#5E5E5E" stroke-width="2.4" stroke-linecap="butt"/>
<line x1="1114.8" y1="727" x2="1129.8" y2="727" stroke="#5E5E5E" stroke-width="2.6" stroke-linecap="butt"/>
<line x1="1114.8" y1="807.2" x2="1129.8" y2="807.2" stroke="#5E5E5E" stroke-width="2.6" stroke-linecap="butt"/>
<line x1="1251" y1="739.3" x2="1251" y2="836.4" stroke="#5E5E5E" stroke-width="2.4" stroke-linecap="butt"/>
<line x1="1243.5" y1="739.3" x2="1258.5" y2="739.3" stroke="#5E5E5E" stroke-width="2.6" stroke-linecap="butt"/>
<line x1="1243.5" y1="836.4" x2="1258.5" y2="836.4" stroke="#5E5E5E" stroke-width="2.6" stroke-linecap="butt"/>
<line x1="1257" y1="714.8" x2="1257" y2="787" stroke="#5E5E5E" stroke-width="2.4" stroke-linecap="butt"/>
<line x1="1249.5" y1="714.8" x2="1264.5" y2="714.8" stroke="#5E5E5E" stroke-width="2.6" stroke-linecap="butt"/>
<line x1="1249.5" y1="787" x2="1264.5" y2="787" stroke="#5E5E5E" stroke-width="2.6" stroke-linecap="butt"/>
<line x1="1264.6" y1="712.8" x2="1264.6" y2="812" stroke="#5E5E5E" stroke-width="2.4" stroke-linecap="butt"/>
<line x1="1257.1" y1="712.8" x2="1272.1" y2="712.8" stroke="#5E5E5E" stroke-width="2.6" stroke-linecap="butt"/>
<line x1="1257.1" y1="812" x2="1272.1" y2="812" stroke="#5E5E5E" stroke-width="2.6" stroke-linecap="butt"/>
<line x1="1268.6" y1="712.2" x2="1268.6" y2="816.5" stroke="#5E5E5E" stroke-width="2.4" stroke-linecap="butt"/>
<line x1="1261.1" y1="712.2" x2="1276.1" y2="712.2" stroke="#5E5E5E" stroke-width="2.6" stroke-linecap="butt"/>
<line x1="1261.1" y1="816.5" x2="1276.1" y2="816.5" stroke="#5E5E5E" stroke-width="2.6" stroke-linecap="butt"/>
<polyline points="929.7,820.5 996.5,784.4 1099.5,778.5 1249.2,783.2" fill="none" stroke="#5B9BD5" stroke-width="2.4" stroke-linejoin="round"/>
<circle cx="929.7" cy="820.5" r="5.8" fill="#5B9BD5"/>
<circle cx="1099.5" cy="778.5" r="5.8" fill="#5B9BD5"/>
<circle cx="1249.2" cy="783.2" r="5.8" fill="#5B9BD5"/>
<polyline points="937,790.3 998.1,765.5 1106.6,745.8 1254,745.7" fill="none" stroke="#ED7D31" stroke-width="2.4" stroke-linejoin="round"/>
<circle cx="937" cy="790.3" r="5.8" fill="#ED7D31"/>
<circle cx="998.1" cy="765.5" r="5.8" fill="#ED7D31"/>
<circle cx="1106.6" cy="745.8" r="5.8" fill="#ED7D31"/>
<circle cx="1254" cy="745.7" r="5.8" fill="#ED7D31"/>
<polyline points="944.3,805.6 1005.9,765.8 1114.1,755.3 1260.6,758.7" fill="none" stroke="#808080" stroke-width="5.2" stroke-linejoin="round"/>
<circle cx="944.3" cy="805.6" r="8.2" fill="#A5A5A5"/>
<circle cx="1005.9" cy="765.8" r="8.2" fill="#A5A5A5"/>
<circle cx="1114.1" cy="755.3" r="8.2" fill="#A5A5A5"/>
<circle cx="1260.6" cy="758.7" r="8.2" fill="#A5A5A5"/>
<polyline points="949.3,800.9 1014.6,765.8 1119.2,763.4 1269.2,763.3" fill="none" stroke="#FFC000" stroke-width="5.2" stroke-linejoin="round"/>
<circle cx="949.3" cy="800.9" r="8.6" fill="#FFC000"/>
<circle cx="1014.6" cy="765.8" r="8.6" fill="#FFC000"/>
<circle cx="1119.2" cy="763.4" r="8.6" fill="#FFC000"/>
<circle cx="1269.2" cy="763.3" r="8.6" fill="#FFC000"/>
<rect x="911.40" y="646.00" width="4.40" height="403.60" fill="#000"/>
<rect x="911.40" y="1044.30" width="379.80" height="5.30" fill="#000"/>
<text transform="translate(107.68,1219.09) scale(1.0000,1)" font-size="46.33" fill="#000">(e)</text>
<text transform="translate(271.20,1731.81) rotate(-90) scale(0.9414,1)" font-size="34.76" fill="#000">Relative gultamate level at 24 h</text>
<text transform="translate(314.03,1647.59) rotate(-90) scale(0.9189,1)" font-size="34.53" fill="#000">(fold-increase vs 0 h)</text>
<text transform="translate(342.16,1362.82) scale(0.8998,1)" font-size="38.42" fill="#000">5</text>
<text transform="translate(342.07,1433.70) scale(0.9048,1)" font-size="38.84" fill="#000">4</text>
<text transform="translate(341.58,1503.23) scale(0.9675,1)" font-size="37.61" fill="#000">3</text>
<text transform="translate(341.08,1574.50) scale(0.9814,1)" font-size="38.42" fill="#000">2</text>
<text transform="translate(339.97,1641.30) scale(1.0023,1)" font-size="38.84" fill="#000">1</text>
<rect x="423.90" y="1650.90" width="41.50" height="56.10" fill="#D9D9D9" stroke="#7F7F7F" stroke-width="1.5"/>
<rect x="505.60" y="1419.10" width="43.10" height="287.90" fill="#7F7F7F"/>
<rect x="589.70" y="1669.50" width="43.90" height="37.50" fill="#8497B0" stroke="#7F7F7F" stroke-width="1.5"/>
<line x1="444.6" y1="1625.1" x2="444.6" y2="1650.9" stroke="#666" stroke-width="2.2" stroke-linecap="butt"/>
<line x1="437.5" y1="1625.1" x2="451.5" y2="1625.1" stroke="#666" stroke-width="2.4" stroke-linecap="butt"/>
<line x1="526.9" y1="1314.7" x2="526.9" y2="1419.1" stroke="#555" stroke-width="2.2" stroke-linecap="butt"/>
<line x1="520.2" y1="1314.7" x2="533.8" y2="1314.7" stroke="#555" stroke-width="2.4" stroke-linecap="butt"/>
<line x1="610" y1="1657.6" x2="610" y2="1669.5" stroke="#666" stroke-width="2.2" stroke-linecap="butt"/>
<line x1="603.1" y1="1657.6" x2="616.9" y2="1657.6" stroke="#666" stroke-width="2.4" stroke-linecap="butt"/>
<polyline points="419,1305.4 419,1289 520.4,1289" fill="none" stroke="#000" stroke-width="2.2"/>
<line x1="520.4" y1="1289" x2="520.4" y2="1305.4" stroke="#000" stroke-width="2.2" stroke-linecap="butt"/>
<polyline points="533.8,1305.4 533.8,1289 635.1,1289 635.1,1305.4" fill="none" stroke="#000" stroke-width="2.2"/>
<text transform="translate(454.68,1299.07) scale(0.9166,1)" font-size="51.01" fill="#000">*</text>
<text transform="translate(568.48,1299.07) scale(0.9166,1)" font-size="51.01" fill="#000">*</text>
<rect x="372.20" y="1269.60" width="4.20" height="440.40" fill="#000"/>
<polygon points="372.2,1704.8 683,1706.9 683,1711.4 372.2,1709.7" fill="#000"/>
<text transform="translate(408.76,1794.72) rotate(-53) scale(0.9185,1)" font-size="34.20" fill="#000">sham</text>
<text transform="translate(512.80,1775.73) rotate(-53) scale(0.7686,1)" font-size="34.20" fill="#000">LPS</text>
<text transform="translate(541.83,1846.79) rotate(-53) scale(0.8163,1)" font-size="34.20" fill="#000">LPS + SSZ</text>
<text transform="translate(712.17,1218.84) scale(1.0683,1)" font-size="45.58" fill="#000">(f)</text>
<text transform="translate(948.73,1287.69) scale(1.0509,1)" font-size="29.92" fill="#000">(μM)</text>
<text transform="translate(972.33,1338.43) scale(1.0123,1)" font-size="37.46" fill="#000">10</text>
<text transform="translate(985.85,1527.63) scale(1.0365,1)" font-size="36.85" fill="#000">5</text>
<text transform="translate(985.36,1711.05) scale(1.1572,1)" font-size="35.48" fill="#000">0</text>
<text transform="translate(934.80,1667.85) rotate(-90) scale(0.9986,1)" font-size="36.41" fill="#000">Released glutamate</text>
<rect x="1052.80" y="1491.00" width="45.40" height="209.50" fill="#BFBFBF" stroke="#7F7F7F" stroke-width="1.3"/>
<rect x="1145.60" y="1433.30" width="45.40" height="267.20" fill="#808080" stroke="#606060" stroke-width="1.3"/>
<rect x="1237.20" y="1515.30" width="47.20" height="185.20" fill="#8497B0" stroke="#6F6F6F" stroke-width="1.3"/>
<line x1="1075" y1="1472" x2="1075" y2="1491" stroke="#666" stroke-width="1.8" stroke-linecap="butt"/>
<line x1="1070.9" y1="1472" x2="1079.8" y2="1472" stroke="#666" stroke-width="2" stroke-linecap="butt"/>
<line x1="1168.5" y1="1384.2" x2="1168.5" y2="1433.3" stroke="#666" stroke-width="1.8" stroke-linecap="butt"/>
<line x1="1164.3" y1="1384.2" x2="1172.6" y2="1384.2" stroke="#666" stroke-width="2" stroke-linecap="butt"/>
<line x1="1261" y1="1513" x2="1261" y2="1515.3" stroke="#666" stroke-width="1.8" stroke-linecap="butt"/>
<line x1="1257" y1="1513" x2="1265" y2="1513" stroke="#666" stroke-width="2" stroke-linecap="butt"/>
<polyline points="1055.3,1343.5 1055.3,1320.7 1156.5,1320.7 1156.5,1343.5" fill="none" stroke="#000" stroke-width="2.6"/>
<polyline points="1164.8,1343.5 1164.8,1320.7 1267.2,1320.7 1267.2,1343.5" fill="none" stroke="#000" stroke-width="2.6"/>
<text transform="translate(1094.38,1327.68) scale(0.9727,1)" font-size="50.74" fill="#000">*</text>
<text transform="translate(1204.58,1327.68) scale(0.9727,1)" font-size="50.74" fill="#000">*</text>
<rect x="1019.50" y="1283.00" width="4.70" height="420.30" fill="#000"/>
<rect x="1019.50" y="1698.50" width="297.50" height="4.80" fill="#000"/>
<text transform="translate(1022.73,1790.78) rotate(-44) scale(0.9376,1)" font-size="37.70" fill="#000">sham</text>
<text transform="translate(1139.57,1773.82) rotate(-44) scale(0.7997,1)" font-size="37.70" fill="#000">LPS</text>
<text transform="translate(1157.64,1848.67) rotate(-44) scale(0.8335,1)" font-size="37.70" fill="#000">LPS + SSZ</text>
</svg></body></html>
